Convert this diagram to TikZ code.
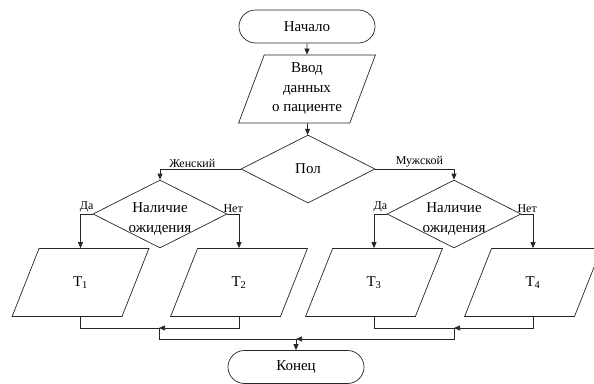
\documentclass[tikz,border=0pt]{standalone}
\usepackage{fontspec}
\setmainfont{Liberation Serif}
\usetikzlibrary{shapes.geometric,shapes.misc,arrows.meta}
\newcommand{\lowtext}[1]{\raisebox{-8pt}[0pt][0pt]{\begin{tabular}{@{}c@{}}#1\end{tabular}}}

\begin{document}
\begin{tikzpicture}[x=1pt, y=-1pt, line width=0.7pt, draw=black!85,
	term/.style={draw, rounded rectangle, minimum width=136pt, minimum height=33pt, inner sep=0pt, font=\fontsize{15}{19.5}\selectfont},
	io/.style={draw, trapezium, trapezium left angle=68, trapezium right angle=112, trapezium stretches=true, minimum width=137pt, minimum height=68pt, inner sep=0pt, align=center, font=\fontsize{15}{19.5}\selectfont},
	cond/.style={draw, diamond, aspect=2, minimum width=134pt, minimum height=68pt, inner sep=0pt, align=center, font=\fontsize{15}{19.5}\selectfont},
	lbl/.style={font=\fontsize{12}{13}\selectfont, inner sep=1.5pt},
	arr/.style={-{Triangle[length=6pt,width=5pt]}}]
				\clip (0,0) rectangle (594,383);
				% blocks
				\node[term] (start) at (307,26.5) {Начало};
				\node[io] (input) at (307,89) {Ввод\\данных\\о пациенте};
				\node[cond] (pol) at (308,169) {Пол};
				\node[cond] (condl) at (160,214) {\lowtext{Наличие\\ожидения}};
				\node[cond] (condr) at (454,214) {\lowtext{Наличие\\ожидения}};
				\node[io] (t1) at (80.5,282.5) {T\textsubscript{1}};
				\node[io] (t2) at (239,282.5) {T\textsubscript{2}};
				\node[io] (t3) at (374,282.5) {T\textsubscript{3}};
				\node[io] (t4) at (533,282.5) {T\textsubscript{4}};
				\node[term] (stop) at (296,367) {Конец};
				\coordinate (joinl) at (159,328);
				\coordinate (joinr) at (454,328);
				\coordinate (merge) at (296,339);
				% connectors
				\draw[arr] (start) -- (input);
				\draw[arr] (input) -- (pol);
				\draw[arr] (pol.west) -| node[lbl, above, pos=0.3] {Женский} (condl.north);
				\draw[arr] (pol.east) -| node[lbl, above, pos=0.28] {Мужской} (condr.north);
				\draw[arr] (condl.west) -| node[lbl, above, pos=0.25] {Да} (t1.north);
				\draw[arr] (condl.east) -| node[lbl, above, pos=0.25] {Нет} (t2.north);
				\draw[arr] (condr.west) -| node[lbl, above, pos=0.25] {Да} (t3.north);
				\draw[arr] (condr.east) -| node[lbl, above, pos=0.25] {Нет} (t4.north);
				\draw (t1.south) |- (joinl);
				\draw[arr] (t2.south) |- (joinl);
				\draw (t3.south) |- (joinr);
				\draw[arr] (t4.south) |- (joinr);
				\draw (joinl) |- (merge);
				\draw[arr] (joinr) |- (merge);
				\draw[arr] (merge) -- (stop);
\end{tikzpicture}
\end{document}
